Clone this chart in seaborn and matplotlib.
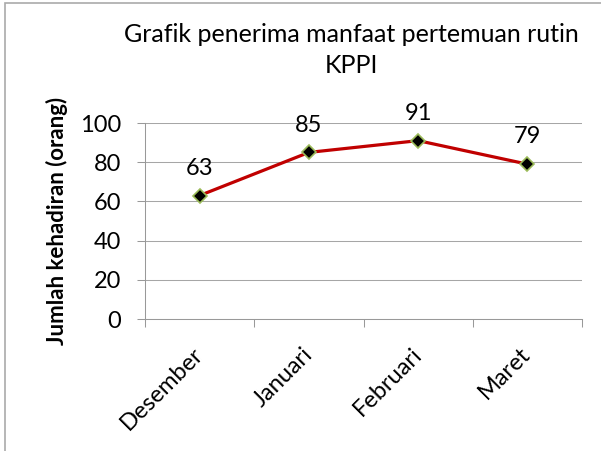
import matplotlib
matplotlib.use("Agg")
import matplotlib.pyplot as plt
import seaborn as sns
from matplotlib.patches import Rectangle

bulan = ["Desember", "Januari", "Februari", "Maret"]
jumlah = [63, 85, 91, 79]
judul = "Grafik penerima manfaat pertemuan rutin\nKPPI"
label_y = "Jumlah kehadiran (orang)"

sns.set_style("white")
plt.rcParams["font.family"] = ["Lato", "DejaVu Sans"]

fig = plt.figure(figsize=(6.01, 4.51), dpi=100)
ax = fig.add_axes([145 / 601, 1 - 319 / 451, (582 - 145) / 601, (319 - 123) / 451])

# thin horizontal gridlines like in the Excel chart
ax.yaxis.grid(True, color="#A6A6A6", linewidth=0.75)
ax.set_axisbelow(True)

sns.lineplot(x=bulan, y=jumlah, ax=ax, color="#C00000", linewidth=2.3,
             marker="D", markersize=7.5, markerfacecolor="black",
             markeredgecolor="#9BBB59", markeredgewidth=1.2)

for i, v in enumerate(jumlah):
    ax.annotate(str(v), (i, v), xytext=(0, 12), textcoords="offset points",
                ha="center", va="bottom", fontsize=17, color="black")

ax.set_xlim(-0.5, 3.5)
ax.set_ylim(0, 100)
ax.set_yticks(range(0, 101, 20))
ax.set_xticks(range(len(bulan)))
ax.set_xticklabels(bulan, rotation=45, ha="right", va="center", rotation_mode="anchor")
ax.set_xticks([-0.5, 0.5, 1.5, 2.5, 3.5], minor=True)
ax.tick_params(axis="x", which="major", length=0, labelsize=17, pad=23, labelcolor="black")
ax.tick_params(axis="x", which="minor", length=6, width=0.75, color="#999999", direction="out", bottom=True)
ax.tick_params(axis="y", length=6, width=0.75, color="#999999", direction="out", left=True,
               labelsize=17, pad=11, labelcolor="black")

for s in ["top", "right"]:
    ax.spines[s].set_visible(False)
for s in ["left", "bottom"]:
    ax.spines[s].set_color("#999999")
    ax.spines[s].set_linewidth(0.75)

ax.set_ylabel(label_y, fontsize=16, fontweight="bold", labelpad=9, color="black")
ax.set_xlabel("")
fig.text(351 / 601, 1 - 50 / 451, judul, ha="center", va="center", fontsize=18,
         linespacing=1.4, color="black")

fig.patches.append(Rectangle((5 / 601, -0.1), 1.2, 1 - 3 / 451 + 0.1,
                             transform=fig.transFigure, fill=False,
                             edgecolor="#AAAAAA", linewidth=1.2))

fig.savefig("out.png", dpi=100)
